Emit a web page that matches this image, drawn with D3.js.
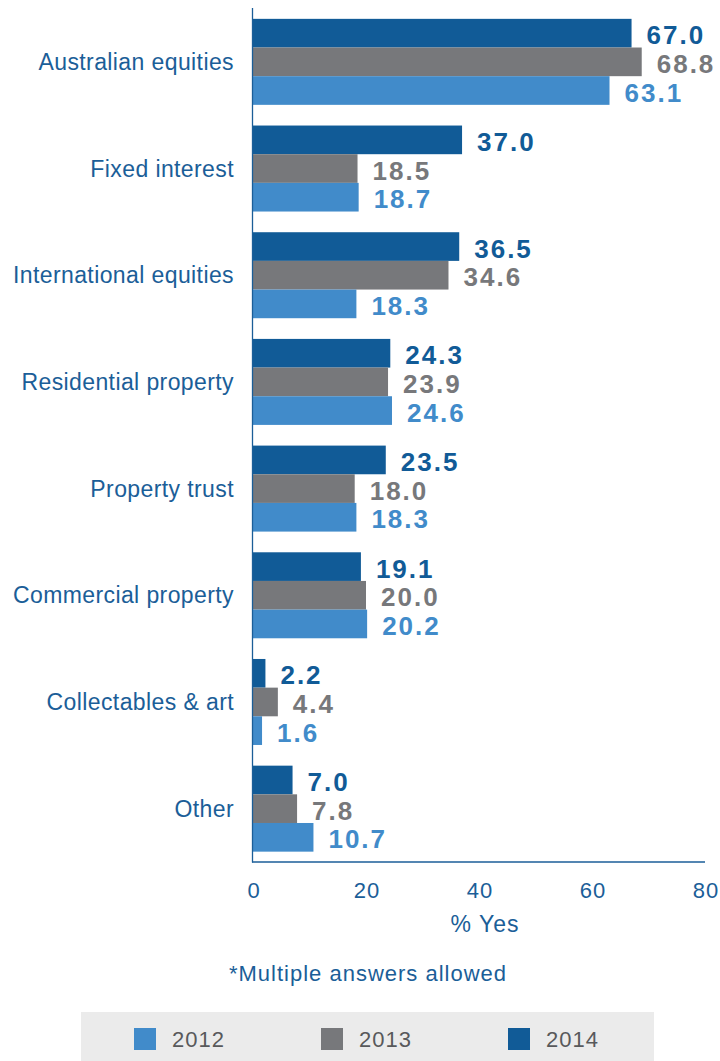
<!DOCTYPE html>
<html>
<head>
<meta charset="utf-8">
<script src="https://cdn.jsdelivr.net/npm/d3@7"></script>
<style>
  html, body { margin: 0; padding: 0; background: #fff; }
  svg { display: block; font-family: "Liberation Sans", Arial, Helvetica, sans-serif; }
</style>
</head>
<body>
<svg id="chart" width="720" height="1061"></svg>
<script>
// Asset classes held, by survey year (% answering yes)
const categories = [
  "Australian equities", "Fixed interest", "International equities",
  "Residential property", "Property trust", "Commercial property",
  "Collectables & art", "Other"
];
const years = ["2014", "2013", "2012"];
const values2014 = [67.0, 37.0, 36.5, 24.3, 23.5, 19.1, 2.2, 7.0];
const values2013 = [68.8, 18.5, 34.6, 23.9, 18.0, 20.0, 4.4, 7.8];
const values2012 = [63.1, 18.7, 18.3, 24.6, 18.3, 20.2, 1.6, 10.7];
const xTicks = [0, 20, 40, 60, 80];
const legendYears = ["2012", "2013", "2014"];

const seriesByYear = { "2014": values2014, "2013": values2013, "2012": values2012 };
const colors = { "2012": "#418bca", "2013": "#77787b", "2014": "#115b97" };
const textBlue = "#1b5e98";

const svg = d3.select("#chart");

const x = d3.scaleLinear().domain([0, 80]).range([253, 705]);
const y = d3.scaleBand().domain(categories).range([8.5, 862])
  .paddingInner(0.194).paddingOuter(0.097);
const yInner = d3.scaleBand().domain(years).range([0, y.bandwidth()]);

const rows = categories.map((c, i) => ({
  category: c,
  bars: years.map(yr => ({ year: yr, value: seriesByYear[yr][i] }))
}));

const groups = svg.append("g").selectAll("g")
  .data(rows).join("g")
  .attr("transform", d => `translate(0,${y(d.category)})`);

groups.selectAll("rect")
  .data(d => d.bars).join("rect")
  .attr("x", x(0))
  .attr("y", d => yInner(d.year))
  .attr("width", d => x(d.value) - x(0))
  .attr("height", yInner.bandwidth())
  .attr("fill", d => colors[d.year]);

groups.selectAll("text.val")
  .data(d => d.bars).join("text")
  .attr("class", "val")
  .attr("x", d => x(d.value) + 15)
  .attr("y", d => yInner(d.year) + yInner.bandwidth() / 2 + 2)
  .attr("dy", "0.35em")
  .attr("fill", d => colors[d.year])
  .style("font-size", "26px")
  .style("font-weight", "bold")
  .style("letter-spacing", "2px")
  .text(d => d.value.toFixed(1));

// Category labels
svg.append("g").selectAll("text")
  .data(categories).join("text")
  .attr("x", 234)
  .attr("y", d => y(d) + y.bandwidth() / 2)
  .attr("dy", "0.35em")
  .attr("text-anchor", "end")
  .attr("fill", textBlue)
  .style("font-size", "23px")
  .style("letter-spacing", "0.4px")
  .text(d => d);

// Axis lines
svg.append("line")
  .attr("x1", x(0) - 0.5).attr("x2", x(0) - 0.5)
  .attr("y1", 8).attr("y2", 862.5)
  .attr("stroke", textBlue).attr("stroke-width", 1.3);
svg.append("line")
  .attr("x1", x(0) - 1).attr("x2", x(80))
  .attr("y1", 862).attr("y2", 862)
  .attr("stroke", textBlue).attr("stroke-width", 1.3);

// Bottom axis tick labels
const xAxis = svg.append("g")
  .attr("transform", "translate(0,862)")
  .call(d3.axisBottom(x).tickValues(xTicks).tickFormat(d3.format("d"))
    .tickSize(0).tickPadding(20));
xAxis.select(".domain").remove();
xAxis.selectAll("text")
  .attr("fill", textBlue)
  .attr("dx", "0.5px")
  .style("font-size", "22px")
  .style("letter-spacing", "1px")
  .style("font-family", "\"Liberation Sans\", Arial, sans-serif");

svg.append("text")
  .attr("x", 485).attr("y", 932)
  .attr("text-anchor", "middle")
  .attr("fill", textBlue)
  .style("font-size", "23px")
  .style("letter-spacing", "1px")
  .text("% Yes");

svg.append("text")
  .attr("x", 368).attr("y", 981)
  .attr("text-anchor", "middle")
  .attr("fill", textBlue)
  .style("font-size", "22px")
  .style("letter-spacing", "1px")
  .text("*Multiple answers allowed");

// Legend
svg.append("rect")
  .attr("x", 81).attr("y", 1012)
  .attr("width", 573).attr("height", 49)
  .attr("fill", "#ebebeb");

const legendX = d3.scalePoint().domain(legendYears).range([134, 508]);
const legend = svg.append("g").selectAll("g")
  .data(legendYears).join("g")
  .attr("transform", d => `translate(${legendX(d)},1028)`);
legend.append("rect")
  .attr("width", 22).attr("height", 22)
  .attr("fill", d => colors[d]);
legend.append("text")
  .attr("x", 38).attr("y", 11)
  .attr("dy", "0.35em")
  .attr("fill", "#58595b")
  .style("font-size", "22px")
  .style("letter-spacing", "1px")
  .text(d => d);
</script>
</body>
</html>
